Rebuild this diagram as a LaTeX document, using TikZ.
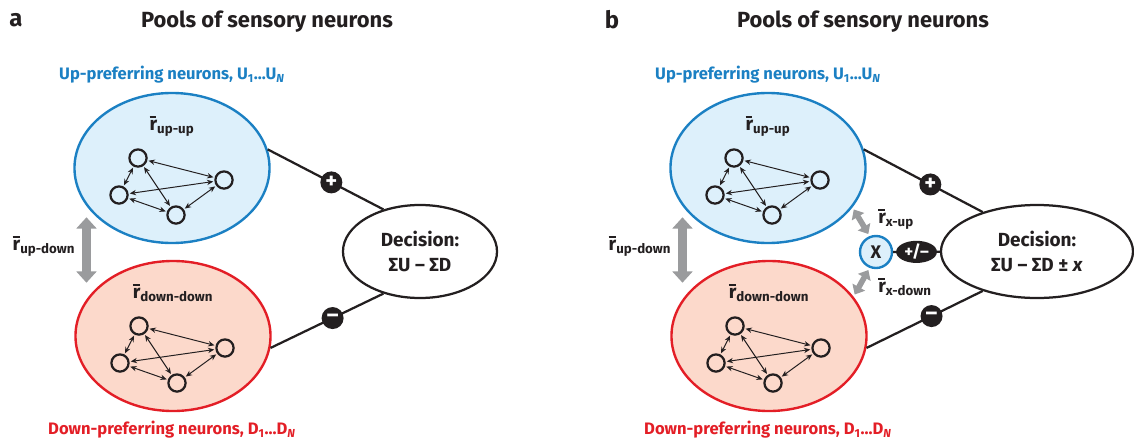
\documentclass[tikz,border=0pt]{standalone}
\usepackage{fontspec}
\setmainfont{Fira Sans}
\usepackage[svgnames]{xcolor}
\usepackage{tikz}
\usetikzlibrary{shapes.geometric,arrows.meta}

\definecolor{upblue}{HTML}{1B80C3}
\definecolor{upfill}{HTML}{DDF0FB}
\definecolor{downred}{HTML}{E31E26}
\definecolor{downfill}{HTML}{FCD9CB}
\definecolor{ink}{HTML}{231F20}
\definecolor{corrgray}{HTML}{9A9B9D}

\newcommand{\rmean}[1]{\makebox[0pt][l]{\rule[1.25ex]{0.36em}{0.11em}}r\textsubscript{#1}}
   %上に棒のついたr(平均相関)

\tikzset{
  pool/.style={ellipse, line width=1.7pt, minimum width=4.875cm, minimum height=3.75cm, inner sep=0pt},
  uppool/.style={pool, draw=upblue, fill=upfill},
  downpool/.style={pool, draw=downred, fill=downfill},
  decision/.style={ellipse, draw=ink, fill=white, line width=1.6pt, minimum height=2.325cm,
    inner sep=0pt, align=center, text=ink, font=\fontsize{13.5}{18}\selectfont\bfseries},
  neuron/.style={circle, draw=ink, line width=1.6pt, minimum size=0.43cm, inner sep=0pt},
  synapse/.style={{Stealth[length=4.5pt,width=3.8pt]}-{Stealth[length=4.5pt,width=3.8pt]},
    draw=ink, line width=0.7pt, shorten <=0.8pt, shorten >=0.8pt},
  link/.style={draw=ink, line width=1.6pt},
  signdot/.style={circle, fill=ink, text=white, minimum size=0.55cm, inner sep=0pt,
    font=\fontsize{16}{16}\selectfont\bfseries},
  pmdot/.style={ellipse, fill=ink, text=white, minimum width=1.02cm, minimum height=0.52cm, inner sep=0pt,
    font=\fontsize{12}{12}\selectfont\bfseries},
  corr/.style={draw=corrgray, line width=6pt, {Triangle[length=8pt,width=14pt]}-{Triangle[length=8pt,width=14pt]}},
  xcorr/.style={draw=corrgray, line width=4pt, {Triangle[length=6pt,width=10pt]}-{Triangle[length=6pt,width=10pt]},
    shorten <=0.06cm, shorten >=0.06cm},
  xpool/.style={circle, draw=upblue, fill=upfill, line width=1.7pt, minimum size=0.8cm, inner sep=0pt,
    text=ink, font=\fontsize{13}{13}\selectfont\bfseries},
  paneltag/.style={text=ink, font=\fontsize{17}{17}\selectfont\bfseries},
  title/.style={text=ink, font=\fontsize{15.6}{18}\selectfont\bfseries},
  uplabel/.style={text=upblue, font=\fontsize{11.8}{14}\selectfont\bfseries},
  downlabel/.style={text=downred, font=\fontsize{11.8}{14}\selectfont\bfseries},
  rlabel/.style={text=ink, inner sep=0pt, font=\fontsize{13.5}{15}\selectfont\bfseries},
}

\begin{document}
\begin{tikzpicture}[x=0.025cm, y=-0.025cm]
\useasboundingbox (0,0) rectangle (1134,441);
   %画像1134x441に合わせた枠(1単位=1画素)

%%パネルa
\node[paneltag] (tagA) at (16,20) {a};
\node[title] (titleA) at (267,22) {Pools of sensory neurons};
\node[uplabel] (uplabA) at (172,75) {Up-preferring neurons, U\textsubscript{1}...U\textsubscript{\textit{N}}};
\node[uppool] (upA) at (172,168) {};
\node[rlabel] (rupupA) at (172,126) {\rmean{up-up}};
\node[downpool] (downA) at (173,336) {};
\node[rlabel] (rdowndownA) at (173,293) {\rmean{down-down}};
\node[downlabel] (downlabA) at (172,430) {Down-preferring neurons, D\textsubscript{1}...D\textsubscript{\textit{N}}};
\node[decision, minimum width=3.85cm] (decA) at (420,251.5) {Decision:\\ΣU – ΣD};
\node[rlabel] (rupdownA) at (44,246) {\rmean{up-down}};

\draw[corr, shorten <=0.28cm, shorten >=0.38cm] (upA.204) -- (upA.204 |- downA.156);
   %二つのプール間の灰色の両矢印
\draw[link] (upA.11) -- node[signdot, pos=0.55] (plusA) {+} (decA.131);
\draw[link] (downA.353) -- node[signdot, pos=0.55] (minusA) {–} (decA.229);

%%パネルb
\node[paneltag] (tagB) at (612,20) {b};
\node[title] (titleB) at (863,22) {Pools of sensory neurons};
\node[uplabel] (uplabB) at (768,75) {Up-preferring neurons, U\textsubscript{1}...U\textsubscript{\textit{N}}};
\node[uppool] (upB) at (768,168) {};
\node[rlabel] (rupupB) at (768,126) {\rmean{up-up}};
\node[downpool] (downB) at (769,336) {};
\node[rlabel] (rdowndownB) at (769,293) {\rmean{down-down}};
\node[downlabel] (downlabB) at (768,430) {Down-preferring neurons, D\textsubscript{1}...D\textsubscript{\textit{N}}};
\node[decision, minimum width=4.8cm] (decB) at (1037,251.5) {Decision:\\ΣU – ΣD ± \textit{x}};
\node[rlabel] (rupdownB) at (640,246) {\rmean{up-down}};
\node[xpool] (xB) at (876,252) {X};
\node[rlabel, anchor=west] (rxupB) at (878,219) {\rmean{x-up}};
\node[rlabel, anchor=west] (rxdownB) at (878,287) {\rmean{x-down}};

\draw[corr, shorten <=0.28cm, shorten >=0.38cm] (upB.204) -- (upB.204 |- downB.156);
\draw[xcorr] (upB.335) -- (xB.112);
\draw[xcorr] (downB.25) -- (xB.248);
   %Xとプール間の灰色の両矢印
\draw[link] (upB.11) -- node[signdot, pos=0.56] (plusB) {+} (decB.144);
\draw[link] (downB.353) -- node[signdot, pos=0.56] (minusB) {–} (decB.216);
\draw[link] (xB) -- node[pmdot] (pmB) {+/–} (decB);

%%各プール内のニューロン(4個)と双方向の結合
\foreach \p in {upA,downA,upB,downB}{
  \begin{scope}[shift={(\p.center)}]
    \node[neuron] (\p1) at (-34,-10) {};
    \node[neuron] (\p2) at (52,12) {};
    \node[neuron] (\p3) at (-53,27) {};
    \node[neuron] (\p4) at (4,47) {};
  \end{scope}
  \foreach \a/\b in {1/2,1/3,1/4,2/3,2/4,3/4}
    \draw[synapse] (\p\a) -- (\p\b);
}
\end{tikzpicture}
\end{document}
